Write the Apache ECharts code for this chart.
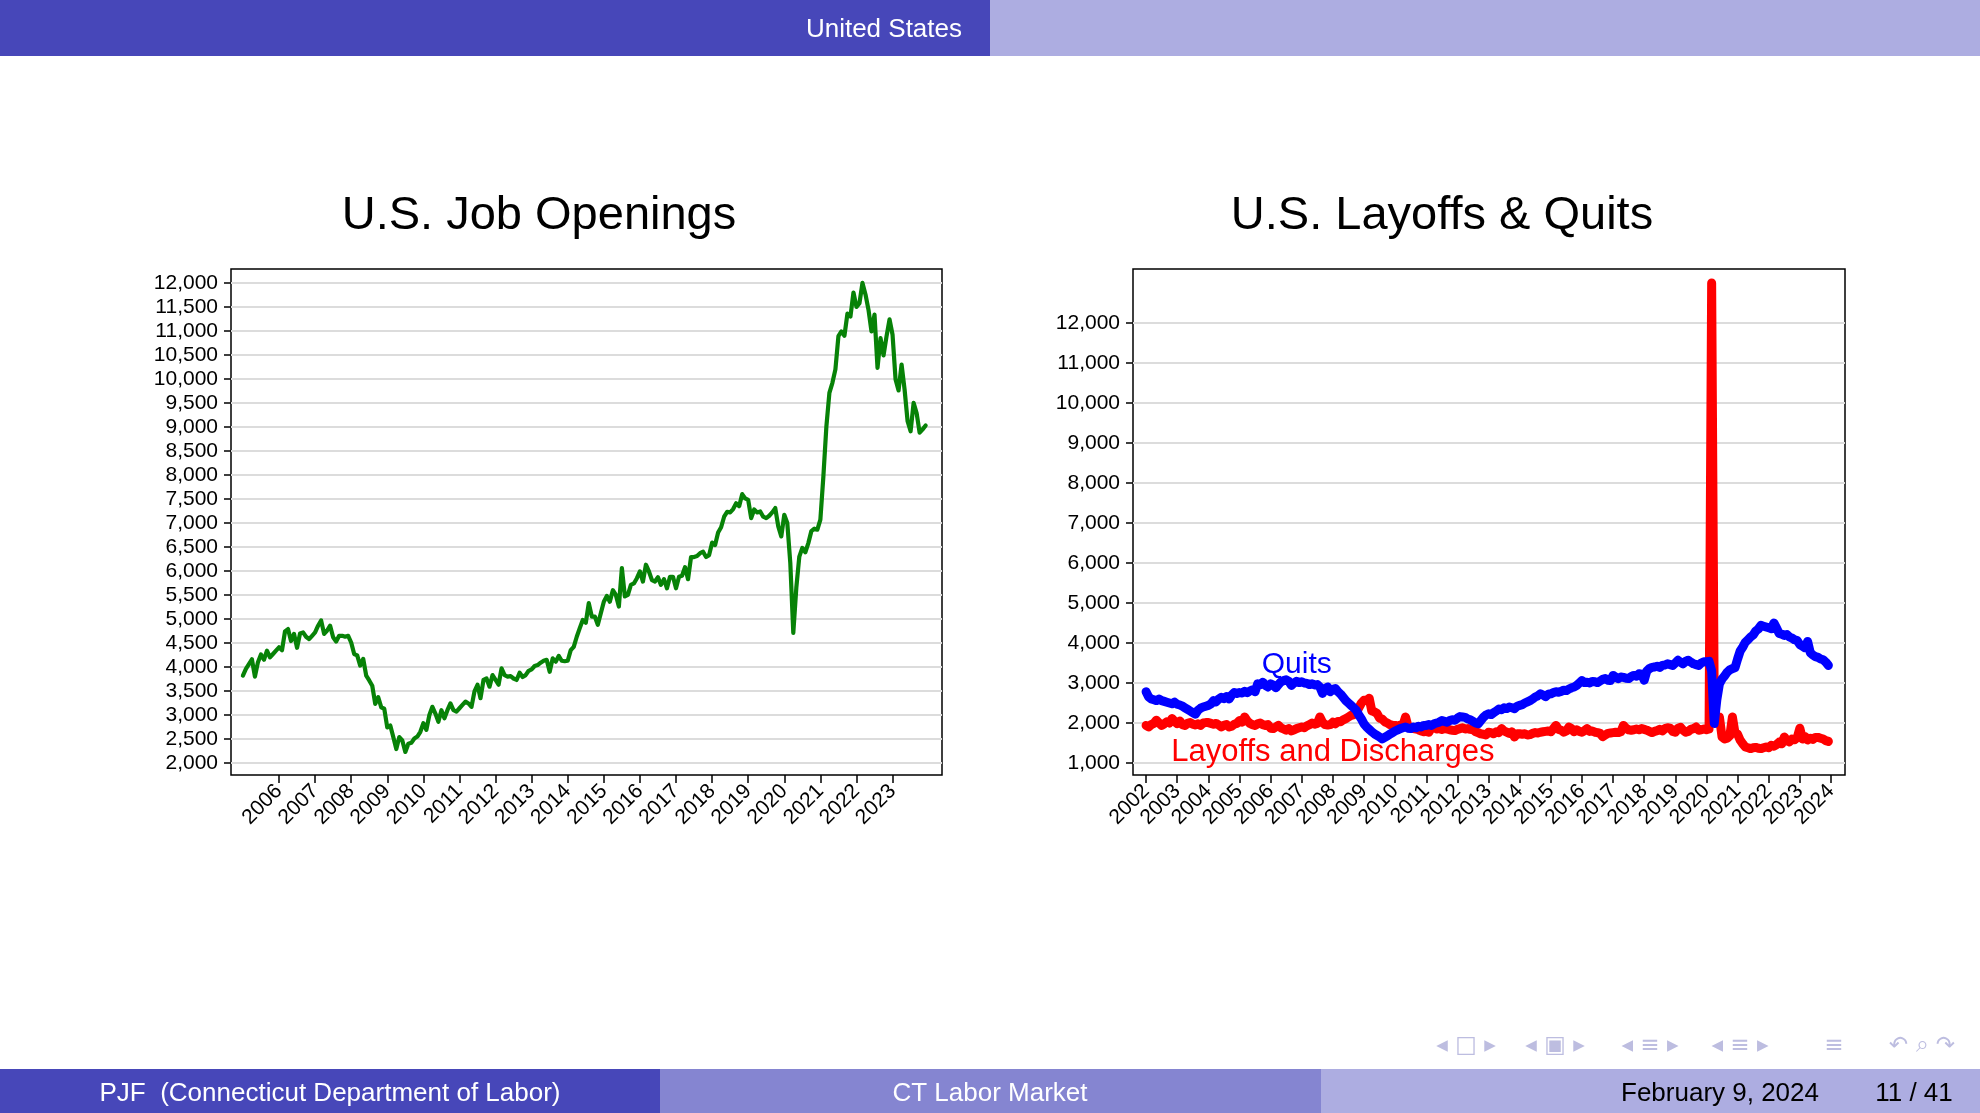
<!DOCTYPE html>
<html>
<head>
<meta charset="utf-8">
<title>CT Labor Market</title>
<script src="https://cdn.jsdelivr.net/npm/echarts@6.0.0/dist/echarts.min.js"></script>
<style>
  html, body { margin: 0; padding: 0; background: #fff; }
  #chart { width: 1980px; height: 1113px; }
</style>
</head>
<body>
<div id="chart"></div>
<script>
// Job openings, thousands, monthly Jan 2005 - Dec 2023
var openingsStart = 2005;
var jobOpenings = [
  3820, 3960, 4060, 4160, 3800, 4100, 4260, 4150, 4340, 4200, 4270, 4340,
  4410, 4350, 4740, 4790, 4540, 4690, 4400, 4700, 4720, 4630, 4580, 4650,
  4720, 4860, 4970, 4690, 4760, 4860, 4620, 4530, 4650, 4650, 4630, 4650,
  4510, 4270, 4240, 4030, 4170, 3820, 3720, 3610, 3230, 3370, 3160, 3130,
  2740, 2780, 2540, 2290, 2540, 2470, 2230, 2400, 2420, 2510, 2550, 2650,
  2830, 2690, 3000, 3170, 3030, 2860, 3100, 2930, 3100, 3240, 3100, 3070,
  3140, 3210, 3280, 3240, 3170, 3490, 3630, 3350, 3730, 3760, 3590, 3830,
  3730, 3630, 3970, 3830, 3800, 3810, 3760, 3730, 3880, 3790, 3830, 3920,
  3950, 4020, 4040, 4090, 4130, 4150, 3900, 4180, 4110, 4230, 4130, 4120,
  4130, 4350, 4420, 4630, 4810, 4980, 4920, 5330, 5050, 5050, 4880, 5120,
  5360, 5480, 5360, 5600, 5500, 5260, 6060, 5470, 5500, 5710, 5740, 5850,
  5990, 5780, 6130, 5990, 5810, 5780, 5870, 5710, 5830, 5640, 5880, 5880,
  5640, 5880, 5900, 6080, 5830, 6290, 6290, 6310, 6370, 6400, 6290, 6330,
  6590, 6540, 6800, 6910, 7130, 7230, 7220, 7290, 7410, 7350, 7600, 7510,
  7480, 7100, 7280, 7220, 7240, 7130, 7100, 7150, 7220, 7310, 6930, 6720,
  7170, 7000, 6170, 4710, 5650, 6300, 6480, 6390, 6580, 6830, 6880, 6860,
  7070, 7970, 9010, 9710, 9920, 10200, 10890, 10990, 10900, 11360, 11300, 11800,
  11500, 11580, 12000, 11760, 11440, 10990, 11340, 10230, 10850, 10490, 10890, 11240,
  10920, 9990, 9760, 10300, 9780, 9120, 8910, 9500, 9290, 8880, 8950, 9030
];
var openingsValueTicks = [2000, 2500, 3000, 3500, 4000, 4500, 5000, 5500, 6000, 6500, 7000,
  7500, 8000, 8500, 9000, 9500, 10000, 10500, 11000, 11500, 12000];
var openingsYearTicks = [2006, 2007, 2008, 2009, 2010, 2011, 2012, 2013, 2014, 2015,
  2016, 2017, 2018, 2019, 2020, 2021, 2022, 2023];

// Quits and layoffs, thousands, monthly Jan 2002 - Dec 2023
var flowsStart = 2002;
var quits = [
  2780, 2650, 2600, 2580, 2560, 2600, 2560, 2540, 2520, 2500, 2480, 2520,
  2470, 2450, 2420, 2380, 2340, 2300, 2260, 2220, 2320, 2370, 2400, 2420,
  2440, 2480, 2560, 2530, 2600, 2640, 2610, 2660, 2600, 2700, 2760, 2740,
  2760, 2750, 2790, 2760, 2800, 2830, 2780, 2980, 2960, 3020, 2940, 2900,
  2980, 2950, 2880, 2960, 3030, 3060, 3080, 3040, 2940, 3000, 3040, 3010,
  3030, 3000, 2990, 2960, 2980, 2950, 2960, 2900, 2740, 2860, 2900, 2780,
  2840, 2860, 2780, 2720, 2640, 2560, 2500, 2440, 2380, 2320, 2200, 2100,
  1980, 1900, 1840, 1780, 1730, 1690, 1650, 1600, 1640, 1680, 1720, 1760,
  1800, 1830, 1860, 1880, 1900, 1870, 1860, 1900, 1880, 1920, 1900, 1940,
  1940, 1960, 1940, 1980, 2000, 2020, 2060, 2040, 2020, 2060, 2080, 2070,
  2120, 2160, 2150, 2140, 2100, 2080, 2040, 2000, 1980, 2060, 2140, 2200,
  2230, 2210, 2260, 2300, 2350, 2330, 2380, 2360, 2400, 2380, 2360, 2420,
  2440, 2460, 2500, 2530, 2560, 2600, 2650, 2680, 2730, 2700, 2660, 2720,
  2730, 2760, 2780, 2770, 2790, 2820, 2810, 2850, 2880, 2900, 2940, 3000,
  3060, 3010, 3020, 3000, 3040, 3030, 3010, 3050, 3090, 3110, 3070, 3060,
  3190, 3150, 3110, 3150, 3140, 3120, 3110, 3160, 3190, 3170, 3230, 3220,
  3070, 3300, 3360, 3390, 3400, 3420, 3390, 3440, 3450, 3480, 3460, 3440,
  3500, 3570, 3520, 3480, 3540, 3570, 3520, 3480, 3460, 3440, 3500, 3530,
  3530, 3540, 3300, 1990, 2580, 2980, 3100, 3180, 3270, 3330, 3360, 3380,
  3600, 3800, 3900, 4020, 4080, 4150, 4200, 4300, 4350, 4440, 4420, 4400,
  4380, 4360, 4500, 4380, 4240, 4220, 4190, 4210, 4150, 4120, 4080, 4060,
  3960, 3920, 3880, 4040, 3760, 3700, 3660, 3640, 3600, 3580, 3520, 3440
];
var layoffs = [
  1940, 1900, 1960, 1990, 2070, 2000, 1940, 1980, 2030, 2000, 2110, 2040,
  1980, 2050, 1960, 1940, 1990, 2010, 1970, 1950, 1980, 1940, 2000, 2010,
  2010, 1990, 1970, 1990, 1950, 1900, 1940, 1960, 1900, 1920, 1970, 1990,
  2060, 2020, 2150, 2050, 1990, 1960, 1940, 1980, 2000, 1960, 1940, 1960,
  1870, 1860, 1900, 1940, 1880, 1850, 1820, 1860, 1800, 1830, 1860, 1880,
  1900, 1880, 1930, 1960, 2000, 1970, 1990, 2150, 2020, 1960, 1950, 1960,
  2020, 1980, 2040, 2030, 2080, 2110, 2150, 2190, 2210, 2260, 2380, 2500,
  2570, 2560, 2620, 2300, 2280, 2240, 2120, 2100, 2030, 2000, 1960, 1940,
  1940, 1920, 1950, 1940, 2150, 1900, 1880, 1860, 1850, 1830, 1800, 1780,
  1790, 1770, 1880, 1900, 1850, 1860, 1840, 1860, 1850, 1830, 1820, 1810,
  1840, 1860, 1880, 1850, 1860, 1840, 1830, 1780, 1760, 1730, 1720, 1700,
  1770, 1760, 1730, 1780, 1760, 1860, 1800, 1770, 1740, 1780, 1650, 1730,
  1730, 1720, 1730, 1700, 1710, 1740, 1760, 1750, 1770, 1780, 1790, 1800,
  1780, 1860, 1940, 1840, 1820, 1770, 1800, 1900, 1860, 1780, 1830, 1790,
  1770, 1810, 1860, 1790, 1800, 1770, 1760, 1740, 1660, 1700, 1740, 1750,
  1760, 1770, 1760, 1780, 1940, 1870, 1830, 1820, 1830, 1850, 1830, 1860,
  1840, 1820, 1790, 1760, 1790, 1810, 1840, 1800, 1860, 1880, 1870, 1790,
  1770, 1870, 1890, 1820, 1770, 1790, 1840, 1860, 1900, 1820, 1830, 1850,
  1830, 1850, 13000, 2400, 2000, 2150, 1650, 1600, 1620, 1680, 2150, 1750,
  1720, 1570, 1480, 1400, 1380, 1360, 1380, 1390, 1370, 1360, 1380, 1400,
  1380, 1440, 1420, 1460, 1520, 1480, 1650, 1560, 1530, 1600, 1580, 1640,
  1870, 1600, 1660, 1580, 1620, 1590, 1640, 1640, 1620, 1600, 1560, 1540
];
var flowsValueTicks = [1000, 2000, 3000, 4000, 5000, 6000, 7000, 8000, 9000, 10000, 11000, 12000];
var flowsYearTicks = [2002, 2003, 2004, 2005, 2006, 2007, 2008, 2009, 2010, 2011, 2012,
  2013, 2014, 2015, 2016, 2017, 2018, 2019, 2020, 2021, 2022, 2023, 2024];

var FONT = "'Liberation Sans', Arial, Helvetica, sans-serif";
var DARK = "#4747B9";
var MID = "#8585D1";
var LIGHT = "#ADADE1";

function monthlyPoints(startYear, values) {
  var pts = [];
  for (var i = 0; i < values.length; i++) {
    pts.push([startYear + i / 12, values[i]]);
  }
  return pts;
}

function withCommas(v) {
  return Math.round(v).toLocaleString("en-US");
}

function yearAxis(gridIndex, min, max, ticks) {
  return {
    type: "value",
    gridIndex: gridIndex,
    min: min,
    max: max,
    axisLine: { show: false },
    axisTick: {
      show: true,
      customValues: ticks,
      length: 8,
      lineStyle: { color: "#000", width: 1.5 },
    },
    axisLabel: {
      customValues: ticks,
      rotate: 45,
      margin: 13,
      fontSize: 21,
      color: "#000",
      fontFamily: FONT,
      formatter: function (v) { return String(Math.round(v)); },
    },
    splitLine: { show: false },
  };
}

function countAxis(gridIndex, min, max, ticks) {
  return {
    type: "value",
    gridIndex: gridIndex,
    min: min,
    max: max,
    axisLine: { show: false },
    axisTick: {
      show: true,
      customValues: ticks,
      length: 7,
      lineStyle: { color: "#000", width: 1.5 },
    },
    axisLabel: {
      customValues: ticks,
      margin: 13,
      fontSize: 21,
      color: "#000",
      fontFamily: FONT,
      formatter: withCommas,
    },
    splitLine: { show: true, lineStyle: { color: "#DCDCDC", width: 2 } },
  };
}

function plainText(id, x, y, str, size, color, align) {
  return {
    type: "text", id: id, z: 10,
    style: {
      text: str, x: x, y: y, fill: color,
      font: size + "px " + FONT,
      textAlign: align || "center", textVerticalAlign: "middle",
    },
  };
}

function navText(id, x, str) {
  return {
    type: "text", id: id, z: 10,
    style: {
      text: str, x: x, y: 1046, fill: "#BDBDE0",
      font: "23px 'DejaVu Sans', sans-serif",
      textAlign: "center", textVerticalAlign: "middle",
    },
  };
}

var option = {
  backgroundColor: "#fff",
  animation: false,
  grid: [
    { left: 231, top: 269, width: 711, height: 506, show: true, borderColor: "#000", borderWidth: 1.5, backgroundColor: "#fff" },
    { left: 1133, top: 269, width: 712, height: 506, show: true, borderColor: "#000", borderWidth: 1.5, backgroundColor: "#fff" },
  ],
  xAxis: [
    yearAxis(0, 2004.67, 2024.37, openingsYearTicks),
    yearAxis(1, 2001.58, 2024.45, flowsYearTicks),
  ],
  yAxis: [
    countAxis(0, 1750, 12290, openingsValueTicks),
    countAxis(1, 700, 13350, flowsValueTicks),
  ],
  series: [
    {
      name: "Job Openings",
      type: "line",
      xAxisIndex: 0, yAxisIndex: 0,
      showSymbol: false,
      data: monthlyPoints(openingsStart, jobOpenings),
      lineStyle: { color: "#078207", width: 4.2, join: "round", cap: "round" },
      itemStyle: { color: "#078207" },
    },
    {
      name: "Layoffs and Discharges",
      type: "line",
      xAxisIndex: 1, yAxisIndex: 1,
      showSymbol: false,
      data: monthlyPoints(flowsStart, layoffs),
      lineStyle: { color: "#FF0000", width: 9, join: "round", cap: "round" },
      itemStyle: { color: "#FF0000" },
    },
    {
      name: "Quits",
      type: "line",
      xAxisIndex: 1, yAxisIndex: 1,
      showSymbol: false,
      data: monthlyPoints(flowsStart, quits),
      lineStyle: { color: "#0000FF", width: 9, join: "round", cap: "round" },
      itemStyle: { color: "#0000FF" },
    },
  ],
  graphic: [
    // top bar
    { type: "rect", id: "topLeft", shape: { x: 0, y: 0, width: 990, height: 56 }, style: { fill: DARK } },
    { type: "rect", id: "topRight", shape: { x: 990, y: 0, width: 990, height: 56 }, style: { fill: LIGHT } },
    plainText("section", 962, 30, "United States", 26, "#fff", "right"),
    // chart titles
    plainText("title1", 539, 216, "U.S. Job Openings", 47, "#000"),
    plainText("title2", 1442, 216, "U.S. Layoffs & Quits", 47, "#000"),
    // bottom bar
    { type: "rect", id: "botLeft", shape: { x: 0, y: 1069, width: 660, height: 44 }, style: { fill: DARK } },
    { type: "rect", id: "botMid", shape: { x: 660, y: 1069, width: 661, height: 44 }, style: { fill: MID } },
    { type: "rect", id: "botRight", shape: { x: 1321, y: 1069, width: 659, height: 44 }, style: { fill: LIGHT } },
    plainText("author", 330, 1094, "PJF  (Connecticut Department of Labor)", 26, "#fff"),
    plainText("talk", 990, 1094, "CT Labor Market", 26, "#fff"),
    plainText("date", 1720, 1094, "February 9, 2024", 26, "#000"),
    plainText("page", 1914, 1094, "11 / 41", 26, "#000"),
    // beamer navigation symbols
    navText("nav1", 1466, "◂ □ ▸"),
    navText("nav2", 1555, "◂ ▣ ▸"),
    navText("nav3", 1650, "◂ ≡ ▸"),
    navText("nav4", 1740, "◂ ≡ ▸"),
    navText("nav5", 1834, "≡"),
    navText("nav6", 1922, "↶ ⌕ ↷"),
  ],
};

var chart = echarts.init(document.getElementById("chart"));
chart.setOption(option);

// Series names written inside the right plot, placed at data coordinates
var quitsLabelAt = [2006.84, 3460];
var layoffsLabelAt = [2008.0, 1260];
var qp = chart.convertToPixel({ gridIndex: 1 }, quitsLabelAt);
var lp = chart.convertToPixel({ gridIndex: 1 }, layoffsLabelAt);
chart.setOption({
  graphic: [
    {
      type: "text", id: "quitsLabel", z: 20,
      style: { text: "Quits", x: qp[0], y: qp[1], fill: "#0000FF", font: "30px " + FONT, textAlign: "center", textVerticalAlign: "middle" },
    },
    {
      type: "text", id: "layoffsLabel", z: 20,
      style: { text: "Layoffs and Discharges", x: lp[0], y: lp[1], fill: "#FF0000", font: "31px " + FONT, textAlign: "center", textVerticalAlign: "middle" },
    },
  ],
});
</script>
</body>
</html>
